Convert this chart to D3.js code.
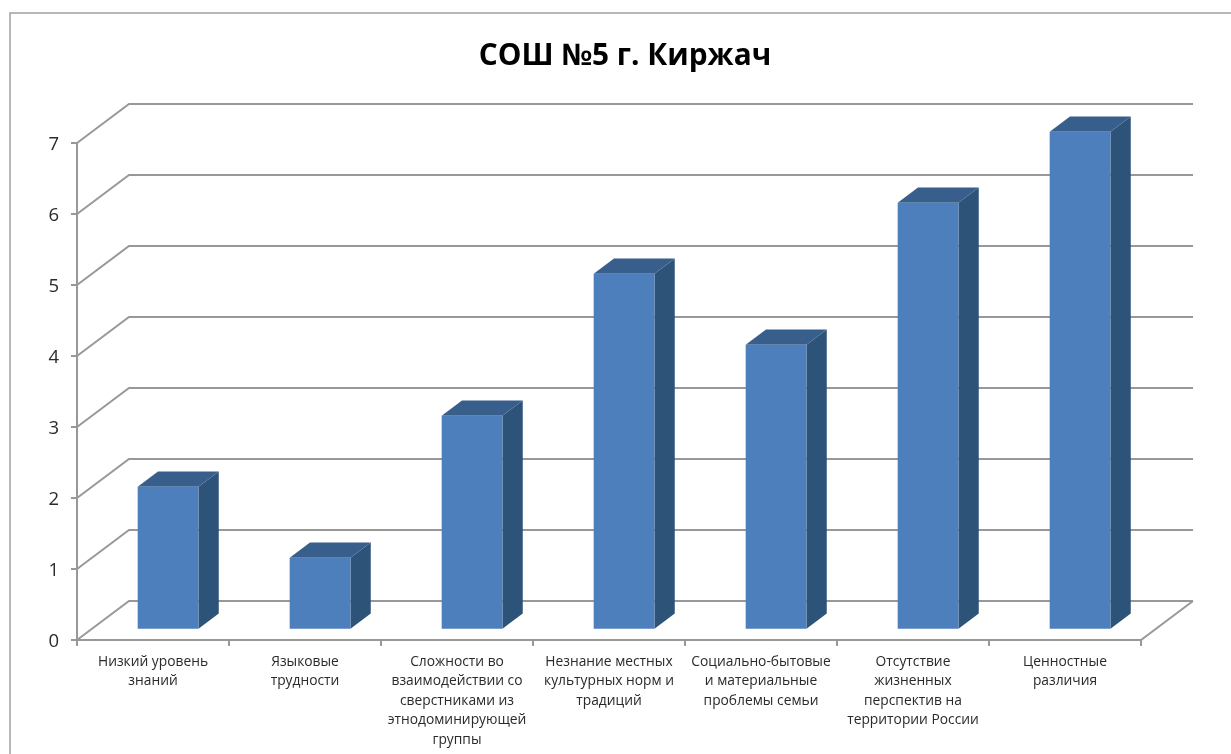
<!DOCTYPE html>
<html><head><meta charset="utf-8">
<style>html,body{margin:0;padding:0;background:#fff;overflow:hidden}svg{display:block}</style>
<script src="https://cdn.jsdelivr.net/npm/d3@7/dist/d3.min.js"></script>
</head><body><svg id="c" width="1231" height="754"></svg>
<script>
const chartTitle = "СОШ №5 г. Киржач";
const categories = ["c0","c1","c2","c3","c4","c5","c6"];
const categoryLines = [
  ["Низкий уровень","знаний"],
  ["Языковые","трудности"],
  ["Сложности во","взаимодействии со","сверстниками из","этнодоминирующей","группы"],
  ["Незнание местных","культурных норм и","традиций"],
  ["Социально-бытовые","и материальные","проблемы семьи"],
  ["Отсутствие","жизненных","перспектив на","территории России"],
  ["Ценностные","различия"]
];
const values = [2,1,3,5,4,6,7];
const yTicks = [0,1,2,3,4,5,6,7];

const svg = d3.select("#c");
const font = "'Open Sans','Noto Sans',sans-serif";
const grey = "#989898";
svg.append("defs").append("filter").attr("id","soft").attr("x","-5%").attr("y","-5%").attr("width","110%").attr("height","110%")
  .append("feGaussianBlur").attr("stdDeviation",0.45);
const root = svg.append("g").attr("filter","url(#soft)");
const x = d3.scaleBand().domain(categories).range([77,1141]).paddingInner(0).paddingOuter(0);
const y = d3.scaleLinear().domain([0,7]).range([640,143]);
const depthX = d3.scaleLinear().domain([0,1]).range([0,52]);
const depthY = d3.scaleLinear().domain([0,1]).range([0,-39]);
const px = (xv,d)=>xv+depthX(d);
const py = (yv,d)=>y(yv)+depthY(d);
const line = d3.line();

// frame
root.append("path").attr("d",line([[10,754],[10,13],[1231,13]])).attr("fill","none").attr("stroke","#a0a0a0").attr("stroke-width",1.5);

// grid + side wall
const g = root.append("g").attr("fill","none").attr("stroke",grey).attr("stroke-width",2);
yTicks.forEach(t=>{
  g.append("path").attr("d",line([[x.range()[0],y(t)],[px(x.range()[0],1),py(t,1)],[px(x.range()[1],1),py(t,1)]]));
  g.append("line").attr("x1",71).attr("x2",x.range()[0]).attr("y1",y(t)).attr("y2",y(t));
});
g.append("line").attr("x1",77).attr("x2",77).attr("y1",y(7)).attr("y2",y(0));
g.append("path").attr("d",line([[x.range()[0],y(0)],[x.range()[1],y(0)],[px(x.range()[1],1),py(0,1)]]));
categories.concat(["end"]).forEach((c,i)=>{
  const xv = i<categories.length?x(c):x.range()[1];
  g.append("line").attr("x1",xv).attr("x2",xv).attr("y1",y(0)).attr("y2",y(0)+6);
});

// y labels
root.append("g").selectAll("text").data(yTicks).join("text")
  .attr("x",59).attr("y",d=>y(d)).attr("dy","0.36em").attr("text-anchor","end")
  .attr("font-family",font).attr("font-size",18.5).attr("fill","#2a2a2a").text(d=>d);

// bars
const barFront = 0.29, barBack = 0.68, barFrac = 0.4;
const bw = x.bandwidth()*barFrac;
const bars = root.append("g").selectAll("g").data(values).join("g");
bars.each(function(v,i){
  const b = d3.select(this);
  const x0 = x(categories[i])+(x.bandwidth()-bw)/2, x1 = x0+bw;
  const P = (xv,val,d)=>[px(xv,d),py(val,d)];
  const poly = (pts,fill)=>b.append("path").attr("d",line(pts)+"Z").attr("fill",fill);
  poly([P(x1,0,barFront),P(x1,0,barBack),P(x1,v,barBack),P(x1,v,barFront)],"#2f5279");
  poly([P(x0,v,barFront),P(x0,v,barBack),P(x1,v,barBack),P(x1,v,barFront)],"#395f8b");
  poly([P(x0,0,barFront),P(x1,0,barFront),P(x1,v,barFront),P(x0,v,barFront)],"#4e7fbc");
});

// category labels
const labels = root.append("g").attr("font-family",font).attr("font-size",13.8).attr("fill","#2a2a2a").attr("text-anchor","middle");
categoryLines.forEach((ls,i)=>{
  const t = labels.append("text");
  ls.forEach((s,j)=>t.append("tspan").attr("x",x(categories[i])+x.bandwidth()/2).attr("y",666+j*19.4).text(s));
});

// title
root.append("text").attr("x",625).attr("y",65).attr("text-anchor","middle")
  .attr("font-family",font).attr("font-weight",700).attr("font-size",29.8).attr("fill","#000").text(chartTitle);
</script></body></html>
